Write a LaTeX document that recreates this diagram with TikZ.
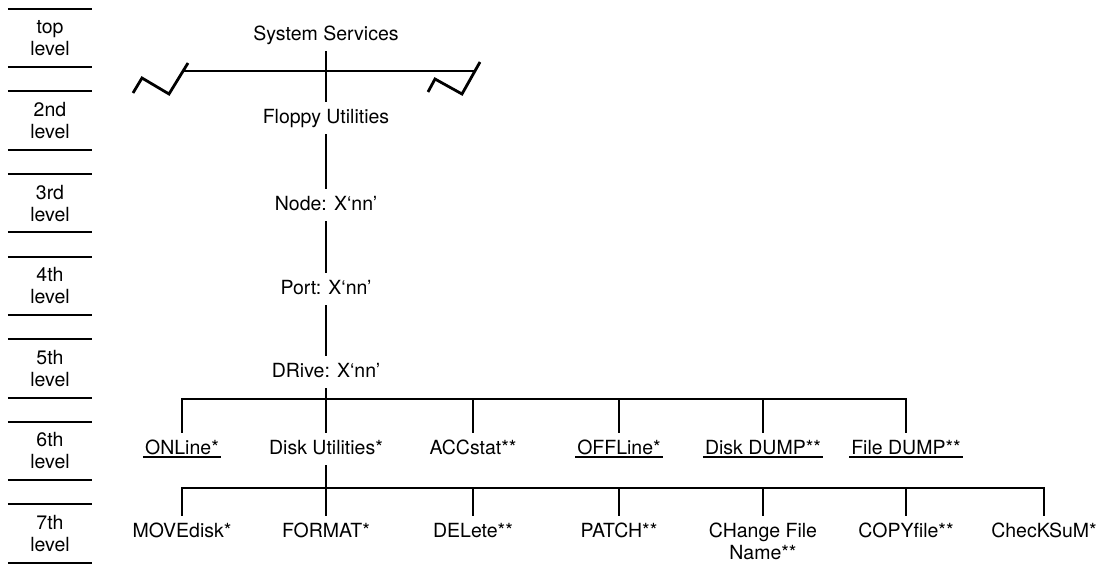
\documentclass[tikz,border=0pt]{standalone}
\usepackage{fontspec}
\setmainfont{TeX Gyre Heros}
\usetikzlibrary{positioning,calc}

\begin{document}
\begin{tikzpicture}[x=1pt, y=-1pt, every node/.style={font=\fontsize{19.5}{22}\selectfont}, lbl/.style={inner xsep=2pt, inner ysep=7pt, text height=14pt, text depth=4pt}, lvl/.style={minimum width=84pt, minimum height=58pt, align=center, inner sep=0pt}, ln/.style={line width=2.6pt}, sep/.style={line width=2pt}, brk/.style={line width=2.8pt, line join=miter}]
\useasboundingbox (0,0) rectangle (1109,565);
% level column
\foreach \t [count=\i from 0] in {top,2nd,3rd,4th,5th,6th,7th}
  \node[lvl] (lv\i) at (50,38+82.6*\i) {\t\\level};
\foreach \i in {0,...,6}
  \draw[sep] (lv\i.north west) -- (lv\i.north east) (lv\i.south west) -- (lv\i.south east);
% main chain
\node[lbl] (ss) at (326,35) {System Services};
\node[lbl] (fu) at (326,118) {Floppy Utilities};
\node[lbl] (nd) at (326,205) {Node: X`nn'};
\node[lbl] (pt) at (326,289) {Port: X`nn'};
\node[lbl] (dr) at (326,372) {DRive: X`nn'};
\draw[ln] (ss.south) -- (fu.north);
\draw[ln] (fu.south) -- (nd.north);
\draw[ln] (nd.south) -- (pt.north);
\draw[ln] (pt.south) -- (dr.north);
% broken bar at top level
\coordinate (brkL) at (183,71);
\coordinate (brkR) at (475,71);
\draw[ln] (brkL) -- (brkR);
\draw[brk] (133,93) -- (142,78) -- (169,94) -- (188,63);
\draw[brk] (428,92) -- (435,79) -- (462,94) -- (480,62);
% 6th level
\node[lbl] (online) at (182,449) {ONLine*};
\node[lbl] (diskutil) at (326,449) {Disk Utilities*};
\node[lbl] (accstat) at (473,449) {ACCstat**};
\node[lbl] (offline) at (619,449) {OFFLine*};
\node[lbl] (diskdump) at (763,449) {Disk DUMP**};
\node[lbl] (filedump) at (906,449) {File DUMP**};
\coordinate (bar6) at (326,399);
\draw[ln] (dr.south) -- (bar6);
\draw[ln] (online.north) |- (bar6 -| filedump) -- (filedump.north);
\foreach \n in {diskutil,accstat,offline,diskdump}
  \draw[ln] (bar6 -| \n) -- (\n.north);
\foreach \n in {online,offline,diskdump,filedump}
  \draw[line width=2pt] ([yshift=-3pt]\n.base west) -- ([yshift=-3pt]\n.base east);
% 7th level
\node[lbl] (movedisk) at (182,532) {MOVEdisk*};
\node[lbl] (format) at (326,532) {FORMAT*};
\node[lbl] (delete) at (473,532) {DELete**};
\node[lbl] (patch) at (619,532) {PATCH**};
\node[lbl, anchor=north, align=center, text height=36pt] (chname) at (763,516) {CHange File\\Name**};
\node[lbl] (copyfile) at (906,532) {COPYfile**};
\node[lbl] (checksum) at (1044,532) {ChecKSuM*};
\coordinate (bar7) at (326,488);
\draw[ln] (diskutil.south) -- (bar7);
\draw[ln] (movedisk.north) |- (bar7 -| checksum) -- (checksum.north);
\foreach \n in {format,delete,patch,chname,copyfile}
  \draw[ln] (bar7 -| \n) -- (\n.north);
\end{tikzpicture}
\end{document}
